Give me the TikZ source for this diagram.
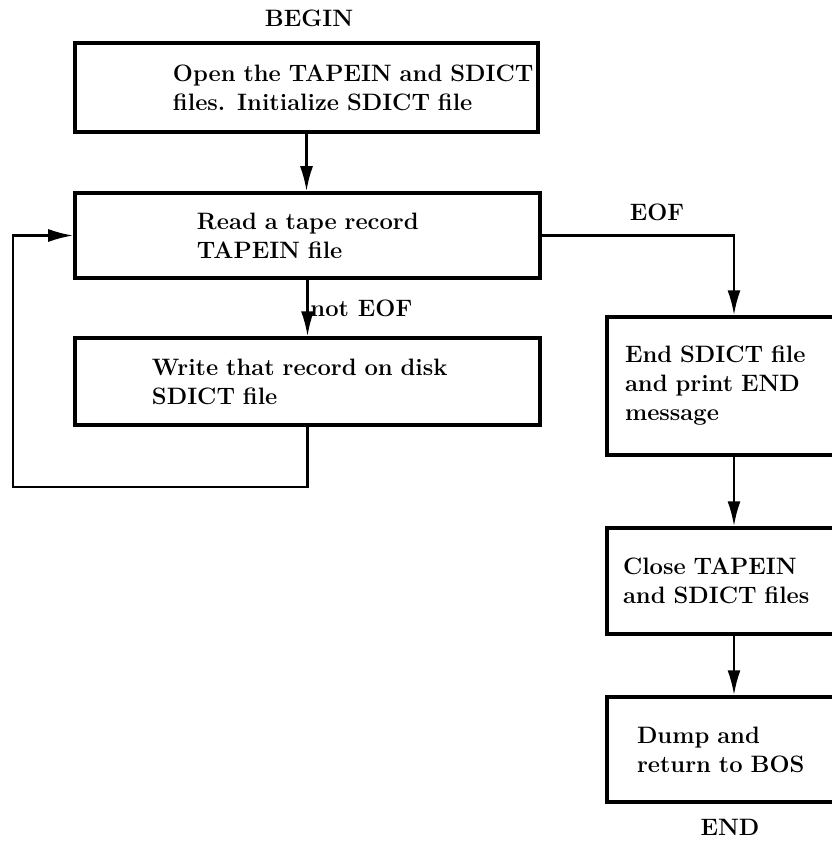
\documentclass[tikz,border=0pt]{standalone}
\usepackage{fontspec}
\usepackage{tikz}
\usetikzlibrary{
	                arrows.meta,
	                calc
					}

\begin{document}
\begin{tikzpicture}[
	proc/.style={draw, line width=2pt, inner sep=0pt, align=left,
		font=\fontsize{13.5}{16.5}\selectfont\bfseries},
	flow/.style={line width=1.4pt, -{Latex[length=5mm,width=2.6mm]}},
	tag/.style={font=\fontsize{13.5}{16.5}\selectfont\bfseries}
	]
	\useasboundingbox (0,0) rectangle (16.64,-16.82);
	% left column
	\node[tag] (begin) at (6.18,-0.36) {BEGIN};
	\node[proc, text width=9.26cm, minimum height=1.78cm] (open) at (6.13,-1.75)
		{\leftskip=1.96cm Open the TAPEIN and SDICT\\ files. Initialize SDICT file\par};
	\node[proc, text width=9.30cm, minimum height=1.70cm] (read) at (6.15,-4.71)
		{\leftskip=2.44cm Read a tape record\\ TAPEIN file\par};
	\node[proc, text width=9.30cm, minimum height=1.74cm] (write) at (6.15,-7.63)
		{\leftskip=1.54cm Write that record on disk\\ SDICT file\par};
	% right column
	\node[proc, text width=5.08cm, minimum height=2.76cm] (endf) at (14.68,-7.72)
		{\leftskip=0.36cm End SDICT file\\ and print END\\ message\par};
	\node[proc, text width=5.08cm, minimum height=2.12cm] (close) at (14.68,-11.62)
		{\leftskip=0.32cm Close TAPEIN\\ and SDICT files\par};
	\node[proc, text width=5.08cm, minimum height=2.10cm] (dump) at (14.68,-14.99)
		{\leftskip=0.6cm Dump and\\ return to BOS\par};
	\node[tag] (end) at (14.6,-16.54) {END};
	\coordinate (back) at (0.26,-9.74);
	% connectors
	\draw[flow] (open.south) -- (open.south |- read.north);
	\draw[flow] (read.south) -- node[tag, right, inner sep=1pt] {not EOF} (read.south |- write.north);
	\draw[flow] (read.east) -- node[tag, above=1.5mm, pos=0.6] {EOF} (read.east -| endf.north) -- (endf.north);
	\draw[flow] (endf) -- (close);
	\draw[flow] (close) -- (dump);
	\draw[flow] (write.south) |- (back) |- (read.west);
\end{tikzpicture}
\end{document}
